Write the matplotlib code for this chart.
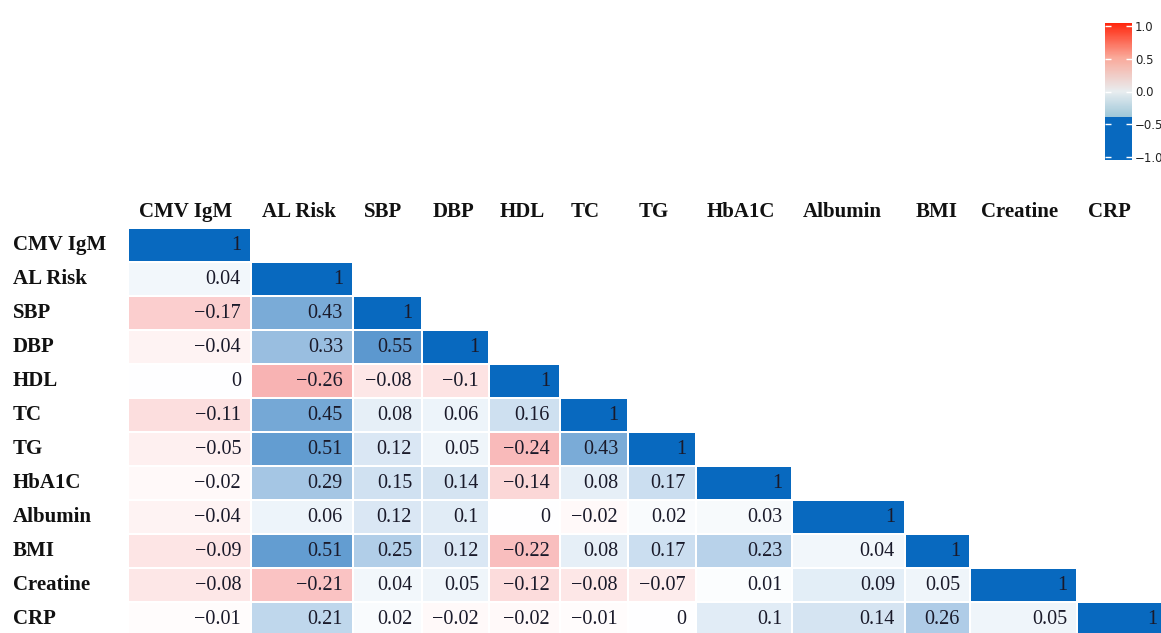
import numpy as np
import matplotlib.pyplot as plt
from matplotlib.colors import LinearSegmentedColormap, Normalize
from matplotlib.cm import ScalarMappable

labels = ["CMV IgM", "AL Risk", "SBP", "DBP", "HDL", "TC", "TG",
          "HbA1C", "Albumin", "BMI", "Creatine", "CRP"]

# lower triangle of the correlation matrix, row by row
corr_rows = [
    [1],
    [0.04, 1],
    [-0.17, 0.43, 1],
    [-0.04, 0.33, 0.55, 1],
    [0, -0.26, -0.08, -0.1, 1],
    [-0.11, 0.45, 0.08, 0.06, 0.16, 1],
    [-0.05, 0.51, 0.12, 0.05, -0.24, 0.43, 1],
    [-0.02, 0.29, 0.15, 0.14, -0.14, 0.08, 0.17, 1],
    [-0.04, 0.06, 0.12, 0.1, 0, -0.02, 0.02, 0.03, 1],
    [-0.09, 0.51, 0.25, 0.12, -0.22, 0.08, 0.17, 0.23, 0.04, 1],
    [-0.08, -0.21, 0.04, 0.05, -0.12, -0.08, -0.07, 0.01, 0.09, 0.05, 1],
    [-0.01, 0.21, 0.02, -0.02, -0.02, -0.01, 0, 0.1, 0.14, 0.26, 0.05, 1],
]

cbar_ticks = [-1.0, -0.5, 0.0, 0.5, 1.0]

# layout (pixels): column widths follow the label widths
col_widths = [123, 102, 69, 67, 71, 68, 68, 96, 113, 65, 107, 90]
x0, y0, row_h = 128, 228, 34

W, H = 1161, 633
fig = plt.figure(figsize=(W / 100, H / 100), dpi=100)
ax = fig.add_axes([0, 0, 1, 1])
ax.set_xlim(0, W)
ax.set_ylim(H, 0)
ax.axis("off")

n = len(labels)
mat = np.full((n, n), np.nan)
for i, row in enumerate(corr_rows):
    mat[i, :len(row)] = row
masked = np.ma.masked_invalid(mat)

x_edges = x0 + np.concatenate([[0], np.cumsum(col_widths)])
y_edges = y0 + row_h * np.arange(n + 1)

cell_cmap = LinearSegmentedColormap.from_list("cells", [
    (0.0, (0.90, 0.25, 0.20)),
    (0.35, (0.97, 0.66, 0.66)),
    (0.5, (1.0, 1.0, 1.0)),
    (0.75, (0.40, 0.62, 0.82)),
    (1.0, (0.03, 0.41, 0.75)),
])
ax.pcolormesh(x_edges, y_edges, masked, cmap=cell_cmap, vmin=-1, vmax=1,
              edgecolors="white", linewidth=1.2)

serif = ["Liberation Serif", "DejaVu Serif"]

def fmt(v):
    s = "%g" % v
    return s.replace("-", "\u2212")

for i, row in enumerate(corr_rows):
    yc = (y_edges[i] + y_edges[i + 1]) / 2
    for j, v in enumerate(row):
        ax.text(x_edges[j + 1] - 10, yc + 1, fmt(v), ha="right", va="center",
                fontsize=14.5, family=serif, color="#1a1a2a")

for i, lab in enumerate(labels):
    yc = (y_edges[i] + y_edges[i + 1]) / 2
    ax.text(13, yc, lab, ha="left", va="center", fontsize=15,
            family=serif, fontweight="bold", color="#111111")
    ax.text(x_edges[i] + 11, 212, lab, ha="left", va="center", fontsize=15,
            family=serif, fontweight="bold", color="#111111")

# colour key in the top right corner
cb_cmap = LinearSegmentedColormap.from_list("key", [
    (0.0, (0.03, 0.41, 0.75)),
    (0.31, (0.03, 0.41, 0.75)),
    (0.315, (0.62, 0.78, 0.85)),
    (0.5, (0.91, 0.93, 0.94)),
    (0.75, (0.98, 0.66, 0.60)),
    (1.0, (1.0, 0.15, 0.05)),
])
cax = fig.add_axes([1105 / W, 1 - 160 / H, 27 / W, 137 / H])
sm = ScalarMappable(norm=Normalize(-1.05, 1.05), cmap=cb_cmap)
cb = fig.colorbar(sm, cax=cax, ticks=cbar_ticks)
cb.outline.set_visible(False)
cb.ax.set_yticklabels(["\u22121.0", "\u22120.5", "0.0", "0.5", "1.0"])
cb.ax.tick_params(left=True, right=True, direction="in", color="white",
                  length=4, width=1, labelsize=8.5, pad=2, labelcolor="#222222")

fig.savefig("out.png", dpi=100)
